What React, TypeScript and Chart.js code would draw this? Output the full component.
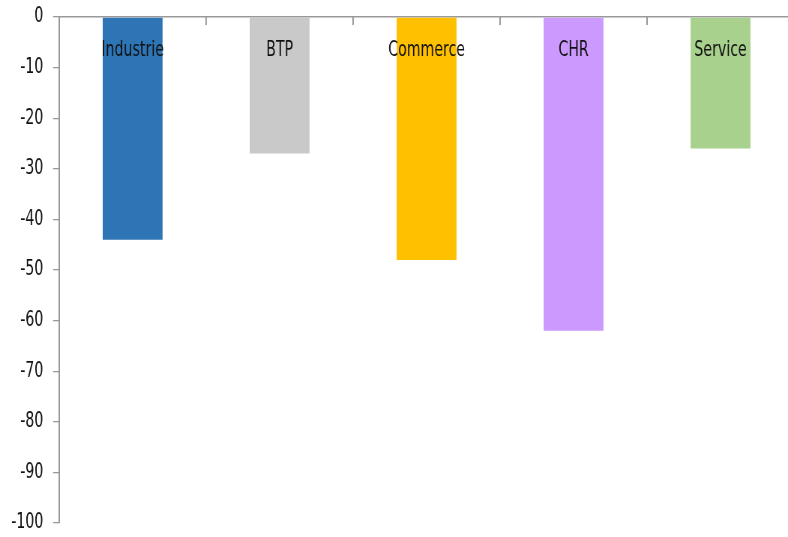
import React, { useEffect, useRef } from "react";
import { Chart, registerables } from "chart.js";

Chart.register(...registerables);

const categories = ["Industrie", "BTP", "Commerce", "CHR", "Service"];
const values = [-44, -27, -48, -62, -26];
const barColors = ["#2E75B6", "#C9C9C9", "#FFC000", "#CC99FF", "#A9D18E"];
const yMin = -100;
const yMax = 0;
const yStep = 10;

const FONT = '"DejaVu Sans Condensed", "Liberation Sans Narrow", sans-serif';
const AXIS_COLOR = "#999999";
// canvas is drawn wider and shown compressed horizontally (narrow look of the reference)
const CANVAS_W = 1067;
const CSS_W = 800;
const H = 537;

const insideLabels = {
  id: "insideLabels",
  afterDatasetsDraw(chart: any) {
    const { ctx, chartArea, scales } = chart;
    const x = scales.x;
    ctx.save();
    ctx.strokeStyle = AXIS_COLOR;
    ctx.lineWidth = 2;
    const n = chart.data.labels.length;
    for (let i = 1; i < n; i++) {
      const bx = (x.getPixelForValue(i - 1) + x.getPixelForValue(i)) / 2;
      ctx.beginPath();
      ctx.moveTo(bx, chartArea.top);
      ctx.lineTo(bx, chartArea.top + 8);
      ctx.stroke();
    }
    ctx.fillStyle = "#111111";
    ctx.font = `21px ${FONT}`;
    ctx.textAlign = "center";
    ctx.textBaseline = "middle";
    chart.data.labels.forEach((lab: string, i: number) => {
      ctx.fillText(lab, x.getPixelForValue(i), chartArea.top + 34);
    });
    ctx.restore();
  },
};

export default function App() {
  const ref = useRef<HTMLCanvasElement>(null);
  useEffect(() => {
    if (!ref.current) return;
    const chart = new Chart(ref.current, {
      type: "bar",
      data: {
        labels: categories,
        datasets: [
          {
            data: values,
            backgroundColor: barColors,
            borderWidth: 0,
            barPercentage: 0.407,
            categoryPercentage: 1,
          },
        ],
      },
      options: {
        responsive: false,
        animation: false,
        devicePixelRatio: 1,
        layout: { padding: { left: 2, right: 8, top: 17, bottom: 14 } },
        plugins: { legend: { display: false }, tooltip: { enabled: false } },
        scales: {
          x: {
            position: "top",
            grid: { display: true, drawOnChartArea: false, drawTicks: false, color: AXIS_COLOR },
            border: { display: true, color: AXIS_COLOR, width: 1.5 },
            ticks: { display: false },
          },
          y: {
            min: yMin,
            max: yMax,
            grid: { drawOnChartArea: false, drawTicks: true, tickLength: 8, color: AXIS_COLOR, lineWidth: 1.3 },
            border: { display: true, color: AXIS_COLOR, width: 2 },
            ticks: {
              stepSize: yStep,
              color: "#111111",
              font: { family: FONT, size: 21 },
              padding: 13,
            },
            afterFit(scale: any) {
              scale.paddingTop = 0;
              scale.paddingBottom = 0;
            },
          },
        },
      },
      plugins: [insideLabels],
    });
    return () => chart.destroy();
  }, []);
  return (
    <div style={{ position: "fixed", left: 0, top: 0, width: 788, height: H, overflow: "hidden", background: "#fff" }}>
      <canvas ref={ref} width={CANVAS_W} height={H} style={{ display: "block", width: CSS_W, height: H }} />
    </div>
  );
}
